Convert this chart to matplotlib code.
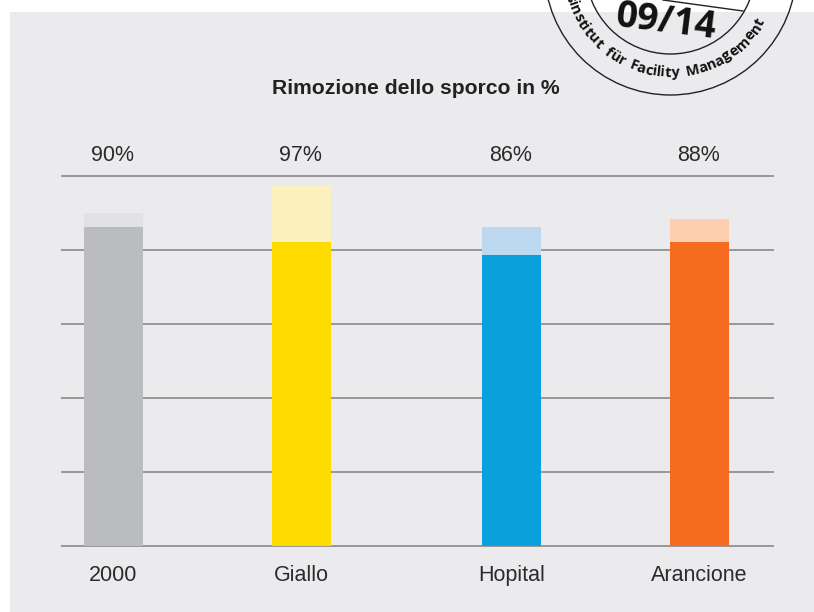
import matplotlib
matplotlib.use("Agg")
import matplotlib.pyplot as plt
from matplotlib.patches import Rectangle, Circle
from matplotlib.textpath import TextPath
from matplotlib.font_manager import FontProperties
import numpy as np

# data
categories = ["2000", "Giallo", "Hopital", "Arancione"]
total_values = [90, 97.3, 86.2, 88.4]
base_values = [86.2, 82.2, 78.7, 82.2]
value_labels = ["90%", "97%", "86%", "88%"]
bar_centers = [113.5, 301.5, 511.5, 699.5]
base_colors = ["#bbbcc0", "#ffdc00", "#0a9fdd", "#f56b1f"]
top_colors = ["#e1e2e4", "#fdf0bf", "#bcd9f1", "#fdcfae"]

W, H = 814, 612
plt.rcParams['font.family'] = ['Liberation Sans', 'DejaVu Sans']
fig = plt.figure(figsize=(W / 100, H / 100), dpi=100, facecolor="white")

# grey panel
fig.patches.append(Rectangle((10 / W, 0), (W - 10) / W, (H - 12) / H, transform=fig.transFigure,
                             facecolor="#ebebee", edgecolor="none", zorder=-5))

ax = fig.add_axes([61 / W, (H - 546) / H, 713 / W, 370 / H])
ax.patch.set_alpha(0)
ax.set_xlim(61, 774)
ax.set_ylim(0, 100)

tops = np.array(total_values) - np.array(base_values)
ax.bar(bar_centers, base_values, width=59, color=base_colors, zorder=3)
ax.bar(bar_centers, tops, width=59, bottom=base_values, color=top_colors, zorder=3)

ax.set_yticks([0, 20, 40, 60, 80, 100])
ax.set_yticklabels([])
ax.grid(axis="y", color="#808080", lw=1.1, zorder=1)
ax.set_axisbelow(True)
for gl in ax.get_ygridlines():
    gl.set_clip_on(False)
    gl.set_solid_capstyle("butt")
ax.tick_params(length=0)
for s in ax.spines.values():
    s.set_visible(False)

ax.set_xticks(bar_centers)
ax.set_xticklabels(categories, fontsize=15.5, color="#2b2b2b")
ax.tick_params(axis="x", pad=14)

for x, lab in zip(bar_centers, value_labels):
    ax.annotate(lab, (x, 100), xytext=(-1, 7), textcoords="offset points", ha="center", va="bottom",
                fontsize=15.5, color="#2b2b2b")

fig.text(416 / W, 1 - 88 / H, "Rimozione dello sporco in %", ha="center", va="center",
         fontsize=15.2, fontweight="bold", color="#222222")

# stamp, drawn in pixel coordinates
st = fig.add_axes([0, 0, 1, 1], zorder=10)
st.set_xlim(0, W)
st.set_ylim(H, 0)
st.axis("off")
cx, cy = 670.5, -31
st.add_patch(Circle((cx, cy), 126, fill=False, ec="#222222", lw=1))
st.add_patch(Circle((cx, cy), 85, fill=False, ec="#222222", lw=1))
st.plot([663, 743], [0, 11], color="#222222", lw=1)
st.text(666, 22, "09/14", ha="center", va="center", rotation=-7, fontsize=27, fontweight="bold",
        family="Open Sans", color="#111111")

fp = FontProperties(family="Open Sans", weight="bold", size=10.5)
ring_text = "Forschungsinstitut für Facility Management"
start = ring_text.index("Facility")
widths = [TextPath((0, 0), c, prop=fp).get_extents().width if c != " " else 3.0 for c in ring_text]
widths = np.array(widths) * 100 / 72 + 1.5
radius = 104
phi0 = np.arcsin((630 - cx) / radius)
pos = np.concatenate([[0], np.cumsum(widths)])
pos = pos - pos[start]
for i, c in enumerate(ring_text):
    phi = phi0 + (pos[i] + widths[i] / 2) / radius
    if abs(phi) > np.pi * 0.62:
        continue
    st.text(cx + radius * np.sin(phi), cy + radius * np.cos(phi), c, ha="center", va="center",
            rotation=np.degrees(phi), rotation_mode="anchor", fontproperties=fp, color="#111111")

fig.savefig("out.png", dpi=100)
